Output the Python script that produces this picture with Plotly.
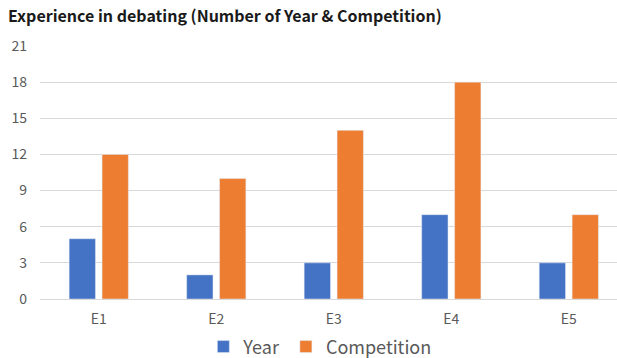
import plotly.graph_objects as go

categories = ["E1", "E2", "E3", "E4", "E5"]
year_values = [5, 2, 3, 7, 3]
competition_values = [12, 10, 14, 18, 7]
y_ticks = [0, 3, 6, 9, 12, 15, 18, 21]

font_family = "Noto Sans CJK SC, Noto Sans, sans-serif"

fig = go.Figure()
fig.add_trace(go.Bar(name="Year", x=categories, y=year_values, marker_color="#4472C4"))
fig.add_trace(go.Bar(name="Competition", x=categories, y=competition_values, marker_color="#ED7D31"))

fig.update_layout(
    width=617, height=358,
    margin=dict(l=40, r=0, t=46, b=59),
    paper_bgcolor="white", plot_bgcolor="white",
    barmode="group", bargap=0.44, bargroupgap=0.2,
    title=dict(text="<b>Experience in debating (Number of Year & Competition)</b>",
               x=0.013, xanchor="left", y=0.955, yanchor="middle",
               font=dict(family=font_family, size=16, color="#1a1a1a")),
    font=dict(family=font_family, color="#595959"),
    showlegend=True,
    legend=dict(orientation="h", x=0.485, xanchor="center",
                yref="container", y=0.031, yanchor="middle",
                font=dict(size=18, color="#595959"), itemwidth=30, traceorder="normal"),
    xaxis=dict(range=[-0.5, 4.41], showgrid=False, showline=False, ticks="",
               ticklabelstandoff=10, tickfont=dict(size=14, color="#595959")),
    yaxis=dict(range=[0, 21], tickvals=y_ticks, showgrid=True, gridcolor="#D9D9D9",
               gridwidth=1, zeroline=True, zerolinecolor="#D9D9D9", zerolinewidth=1,
               ticks="", ticklabelstandoff=12, tickfont=dict(size=14, color="#595959")),
)

fig.write_html("out.html")
